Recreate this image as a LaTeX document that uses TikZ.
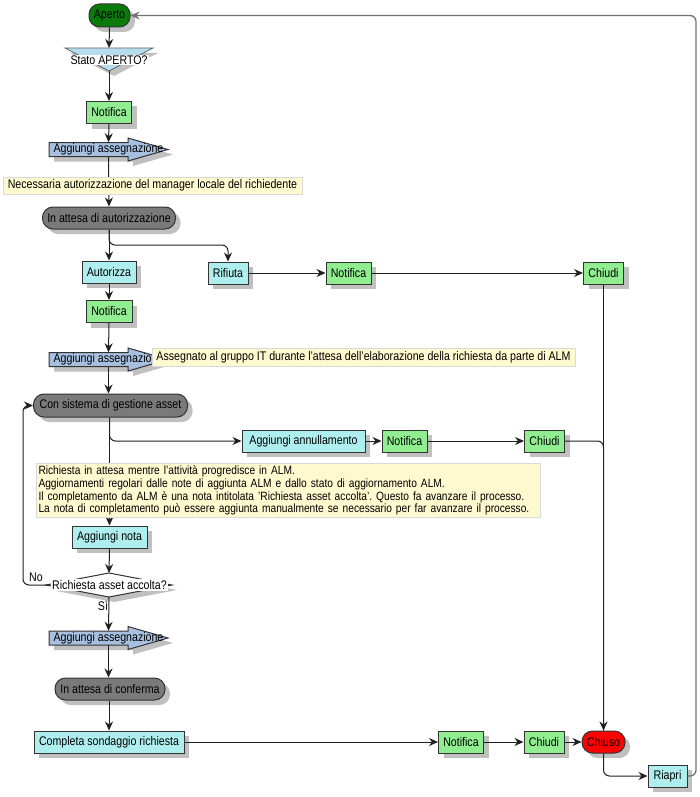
\documentclass[tikz,border=0pt]{standalone}
\usepackage{fontspec}
\setmainfont{Liberation Sans}[FakeStretch=0.85]
\usetikzlibrary{arrows.meta,shadows,calc}
\definecolor{cGreen}{HTML}{0B7A0B}
\definecolor{cLGreen}{HTML}{90EE90}
\definecolor{cCyan}{HTML}{AFEEEE}
\definecolor{cBlue}{HTML}{A8C0E0}
\definecolor{cGray}{HTML}{7A7A7A}
\definecolor{cRed}{HTML}{FF0000}
\definecolor{cNote}{HTML}{FFF9D0}
\definecolor{cNoteB}{HTML}{D9D9D9}
\definecolor{cShadow}{HTML}{C0C0C0}
\definecolor{cLine}{HTML}{202020}
\definecolor{cTri}{HTML}{B5DDED}
\frenchspacing
\tikzset{
 every node/.style={font=\fontsize{12.5}{12.8}\selectfont, inner sep=0pt},
 shad/.style={drop shadow={shadow xshift=5pt,shadow yshift=-5pt,fill=cShadow,opacity=1}},
 box/.style={draw=black!80, line width=1pt, shad, minimum height=22, rectangle},
 act/.style={box, fill=cCyan},
 ntf/.style={box, fill=cLGreen},
 pill/.style={box, rounded corners=10.5},
 statebox/.style={pill, fill=cGray},
 note/.style={draw=cNoteB, fill=cNote, line width=0.8pt, inner xsep=4pt, inner ysep=2pt},
 conn/.style={draw=cLine, line width=1pt, -{Stealth[length=9pt,width=8pt]}},
 plain/.style={draw=cLine, line width=1pt},
 loopc/.style={draw=black!55, line width=1.3pt},
 blk/.style={draw=black!80, line width=1pt, fill=cBlue, shad},
}
\newcommand{\blkarrow}[2]{%
 \path[blk] (49,#2-7) -- (128,#2-7) -- (128,#2-11.5) -- (168,#2) -- (128,#2+11.5) -- (128,#2+7) -- (49,#2+7) -- cycle;
 \node[minimum width=119, minimum height=14] (#1) at (108.5,#2) {Aggiungi assegnazione};}
\begin{document}
\begin{tikzpicture}[x=1pt,y=-1pt]
\useasboundingbox (0,0) rectangle (699,797);
% top
\node[pill, fill=cGreen, minimum width=41, minimum height=23] (aperto) at (109.5,15.5) {Aperto};
\path[draw=black!60, line width=0.8pt, fill=cTri, shad] (65,48) -- (153,48) -- (109,71) -- cycle;
\coordinate (statotop) at (109,48);
\coordinate (statobot) at (109,71);
\node[fill=white, inner xsep=2pt, inner ysep=1pt] (stato) at (109,60) {Stato APERTO?};
\node[ntf, minimum width=45] (notif1) at (109,112.5) {Notifica};
\blkarrow{aa1}{149.5}
\node[statebox, minimum width=133] (iaa) at (109,218) {In attesa di autorizzazione};
\node[act, minimum width=54] (autorizza) at (109,272) {Autorizza};
\node[act, minimum width=40] (rifiuta) at (228,273) {Rifiuta};
\node[ntf, minimum width=45] (notifr) at (348.5,273) {Notifica};
\node[ntf, minimum width=40] (chiudi1) at (603.5,273) {Chiudi};
\node[ntf, minimum width=46] (notif2) at (109,311.5) {Notifica};
\blkarrow{aa2}{359.5}
\node[statebox, minimum width=154, minimum height=23] (csga) at (110.5,405.5) {Con sistema di gestione asset};
\node[act, minimum width=123] (annull) at (303.5,441) {Aggiungi annullamento};
\node[ntf, minimum width=45] (notif3) at (404.5,441) {Notifica};
\node[ntf, minimum width=40] (chiudi2) at (544.5,441) {Chiudi};
\node[act, minimum width=75] (nota) at (109.5,537) {Aggiungi nota};
\path[draw=black!80, line width=1pt, fill=white, shad] (109,573) -- (172,585) -- (109,597) -- (46,585) -- cycle;
\coordinate (dtop) at (109,573);
\coordinate (dbot) at (109,597);
\coordinate (dleft) at (50,585);
\node[fill=white, inner xsep=1.5pt, inner ysep=1pt] (dia) at (109.5,585) {Richiesta asset accolta?};
\blkarrow{aa3}{638}
\node[statebox, minimum width=110] (iac) at (110,689) {In attesa di conferma};
\node[act, minimum width=150] (completa) at (109,742) {Completa sondaggio richiesta};
\node[ntf, minimum width=45] (notif4) at (461,742) {Notifica};
\node[ntf, minimum width=40] (chiudi3) at (544,742) {Chiudi};
\node[pill, fill=cRed, minimum width=43] (chiuso) at (603.5,742) {Chiuso};
\node[act, minimum width=39] (riapri) at (667.5,776) {Riapri};
\coordinate (b1) at (228,245);
\coordinate (b2) at (23,585);
\coordinate (b3) at (23,405.5);
\coordinate (r1) at (696,776);
\coordinate (r2) at (696,15.5);
% connectors
\draw[conn] (aperto.south) -- (statotop);
\draw[conn] (statobot) -- (notif1.north);
\draw[conn] (notif1.south) -- (aa1.north);
\draw[conn] (aa1.south) -- (iaa.north);
\draw[conn] (iaa.south) -- (autorizza.north);
\draw[conn, rounded corners=6] (iaa.south) |- (b1) -- (rifiuta.north);
\draw[conn] (rifiuta.east) -- (notifr.west);
\draw[conn] (notifr.east) -- (chiudi1.west);
\draw[conn] (chiudi1.south) -- (chiuso.north);
\draw[conn] (autorizza.south) -- (notif2.north);
\draw[conn] (notif2.south) -- (aa2.north);
\draw[conn] (aa2.south) -- (csga.north -| aa2.south);
\draw[conn] (csga.south -| nota.north) -- (nota.north);
\draw[conn, rounded corners=6] (csga.south -| nota.north) |- (annull.west);
\draw[conn] (annull.east) -- (notif3.west);
\draw[conn] (notif3.east) -- (chiudi2.west);
\draw[plain, rounded corners=6] (chiudi2.east) -| (chiuso.north);
\draw[conn] (nota.south) -- (dtop);
\draw[conn, rounded corners=6] (dleft) -- (b2) -- (b3) -- (csga.west);
\draw[conn] (dbot) -- (aa3.north);
\draw[conn] (aa3.south) -- (iac.north -| aa3.south);
\draw[conn] (iac.south -| completa.north) -- (completa.north);
\draw[conn] (completa.east) -- (notif4.west);
\draw[conn] (notif4.east) -- (chiudi3.west);
\draw[conn] (chiudi3.east) -- (chiuso.west);
\draw[conn, rounded corners=6] (chiuso.south) |- (riapri.west);
\draw[loopc, -{Stealth[length=9pt,width=8pt]}, rounded corners=6] (riapri.east) -- (r1) -- (r2) -- (aperto.east);
% labels
\node (no) at (36,577) {No};
\node (si) at (103,605.5) {Sì};
% notes
\node[note, minimum width=299, minimum height=17] (note1) at (152.5,185.5) {Necessaria autorizzazione del manager locale del richiedente};
\node[note, minimum width=423, minimum height=18] (note2) at (363.5,357.5) {Assegnato al gruppo IT durante l'attesa dell'elaborazione della richiesta da parte di ALM};
\node[note, minimum width=504, minimum height=53, align=left, text width=500, inner xsep=2pt, font=\fontsize{12}{12.8}\selectfont] (note3) at (288.5,490.5) {Richiesta in attesa mentre l'attività progredisce in ALM.\\
Aggiornamenti regolari dalle note di aggiunta ALM e dallo stato di aggiornamento ALM.\\
Il completamento da ALM è una nota intitolata 'Richiesta asset accolta'. Questo fa avanzare il processo.\\
La nota di completamento può essere aggiunta manualmente se necessario per far avanzare il processo.};
\end{tikzpicture}
\end{document}
